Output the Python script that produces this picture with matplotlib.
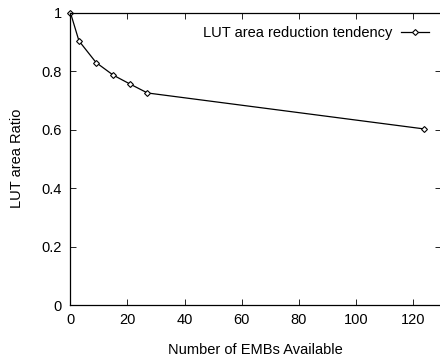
import matplotlib.pyplot as plt
from matplotlib.lines import Line2D

plt.rcParams['font.family'] = ['Liberation Sans', 'DejaVu Sans']

embs = [0, 3, 9, 15, 21, 27, 124]
lut_ratio = [1.0, 0.903, 0.829, 0.786, 0.755, 0.725, 0.602]
x_ticks = [0, 20, 40, 60, 80, 100, 120]
y_ticks = [0, 0.2, 0.4, 0.6, 0.8, 1.0]
y_tick_labels = ["0", "0.2", "0.4", "0.6", "0.8", "1"]

fig = plt.figure(figsize=(4.4, 3.58), dpi=100)
ax = fig.add_axes([0.160, 0.148, 0.843, 0.817])

ax.plot(embs, lut_ratio, color="black", linewidth=0.9, marker="D",
        markersize=3, markerfacecolor="white", markeredgecolor="black",
        markeredgewidth=0.8, clip_on=False)

ax.set_xlim(0, 130)
ax.set_ylim(0, 1)
ax.set_xticks(x_ticks)
ax.set_yticks(y_ticks)
ax.set_yticklabels(y_tick_labels)
ax.tick_params(direction="in", length=4, width=0.6, top=True, right=True,
               labelsize=10.5, pad=6)
for side in ax.spines.values():
    side.set_linewidth(0.9)

ax.set_xlabel("Number of EMBs Available", fontsize=10.5, labelpad=11)
ax.set_ylabel("LUT area Ratio", fontsize=10.5, labelpad=13)

handle = Line2D([], [], color="black", linewidth=0.9, marker="D", markersize=3,
                markerfacecolor="white", markeredgecolor="black", markeredgewidth=0.8)
ax.legend([handle], ["LUT area reduction tendency"], loc="upper right",
          bbox_to_anchor=(0.99, 0.985), frameon=False, fontsize=10.5,
          markerfirst=False, handlelength=1.9, handletextpad=0.6, borderaxespad=0.2)

fig.savefig("out.png", dpi=100)
plt.close(fig)
